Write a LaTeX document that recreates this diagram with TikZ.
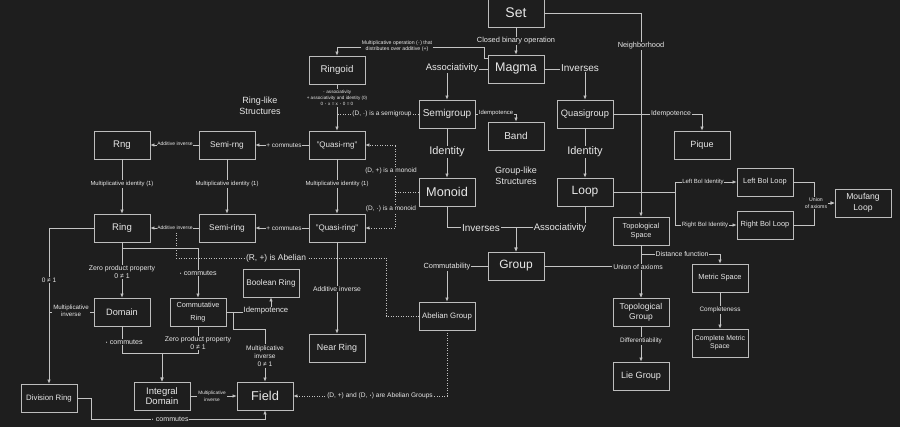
\documentclass[tikz,border=0pt]{standalone}
\usepackage{fontspec}
\setmainfont{Liberation Sans}
\usetikzlibrary{arrows.meta}
\definecolor{bg}{HTML}{1E1E1E}
\definecolor{boxc}{HTML}{BDBDBD}
\definecolor{linec}{HTML}{C4C4C4}
\definecolor{txt}{HTML}{E8E8E8}
\newcommand\cdt{\ensuremath{\boldsymbol{\cdot}}}
\usepackage{amsmath}
\tikzset{
  fs/.style 2 args={font=\fontsize{#1}{#2}\selectfont},
  box/.style={draw=boxc, line width=0.8pt, minimum width=56pt, minimum height=28pt, inner sep=0pt, text=txt, align=center},
  lab/.style={fill=bg, inner sep=0.8pt, text=txt, align=center},
  plain/.style={inner sep=0pt, text=txt, align=center},
  conn/.style={draw=linec, line width=0.7pt},
  arr/.style={conn, -{Latex[length=4pt,width=3.5pt]}},
  dots/.style={conn, dash pattern=on 1pt off 1.5pt},
  darr/.style={dots, -{Latex[length=4pt,width=3.5pt]}},
}
\begin{document}
\begin{tikzpicture}[x=1pt,y=-1pt]
\fill[bg] (0,0) rectangle (900,427);
\useasboundingbox (0,0) rectangle (900,427);
% ---- boxes
\node[box,fs={14}{16}] (set) at (516,13) {Set};
\node[box,fs={12.5}{14}] (magma) at (516,69) {Magma};
\node[box,fs={9.7}{11}] (ringoid) at (337,70) {Ringoid};
\node[box,fs={10}{12}] (semigroup) at (447,114) {Semigroup};
\node[box,fs={10}{12}] (band) at (516,136) {Band};
\node[box,fs={9.3}{11}] (quasigroup) at (585,114) {Quasigroup};
\node[box,fs={9}{11}] (pique) at (702,145) {Pique};
\node[box,fs={12}{14}] (loop) at (585,192) {Loop};
\node[box,fs={7.4}{9}] (lbl) at (765,182) {Left Bol Loop};
\node[box,fs={7.4}{9}] (rbl) at (765,225) {Right Bol Loop};
\node[box,fs={8.6}{11}] (moufang) at (863,203) {Moufang\\Loop};
\node[box,fs={7.3}{8.7}] (topspace) at (641,231) {Topological\\Space};
\node[box,fs={7.4}{9}] (metric) at (720,278) {Metric Space};
\node[box,fs={6.9}{8.3}] (cmetric) at (720,343) {Complete Metric\\Space};
\node[box,fs={8.5}{9.7}] (topgroup) at (641,312) {Topological\\Group};
\node[box,fs={9.1}{11}] (lie) at (641,376) {Lie Group};
\node[box,fs={12}{14}] (group) at (516,266) {Group};
\node[box,fs={7.8}{9}] (abelian) at (447,316) {Abelian Group};
\node[box,fs={8.9}{11}] (near) at (337,348) {Near Ring};
\node[box,fs={12.7}{14}] (monoid) at (447,192) {Monoid};
\node[box,fs={8}{10}] (qrng) at (337,145) {"Quasi-rng"};
\node[box,fs={8}{10}] (qring) at (337,228) {"Quasi-ring"};
\node[box,fs={8.3}{10}] (semirng) at (227,145) {Semi-rng};
\node[box,fs={9.6}{11}] (rng) at (122,145) {Rng};
\node[box,fs={9.6}{11}] (ring) at (122,228) {Ring};
\node[box,fs={8.3}{10}] (semiring) at (227,228) {Semi-ring};
\node[box,fs={9.2}{11}] (domain) at (122,312) {Domain};
\node[box,fs={7.3}{12.7}] (comring) at (198,312) {Commutative\\Ring};
\node[box,fs={8.2}{10}] (boolean) at (271,283) {Boolean Ring};
\node[box,fs={7.8}{9}] (divring) at (49,398) {Division Ring};
\node[box,fs={9.5}{10.7}] (intdom) at (162,396) {Integral\\Domain};
\node[box,fs={12.8}{14}] (field) at (265,396) {Field};
\coordinate (rab) at (176,228);
\coordinate (abx) at (386,258);
% ---- group-like connectors
\draw[arr] (set) -- (magma);
\draw[arr] (set.east) -| (topspace.north);
\draw[arr] ([yshift=11pt]magma.west) -- ++(-3,0) |- ([yshift=8pt]ringoid.north) -- (ringoid.north);
\draw[arr] (magma.west) -| (semigroup.north);
\draw[arr] (magma.east) -| (quasigroup.north);
\draw[arr] (semigroup.east) -| (band.north);
\draw[arr] (semigroup) -- (monoid);
\draw[arr] (quasigroup.east) -| (pique.north);
\draw[arr] (quasigroup) -- (loop);
\draw[arr] (loop.east) -- ++(62,0) |- (lbl.west);
\draw[arr] (loop.east) -- ++(62,0) |- (rbl.west);
\draw[arr] (lbl.east) -- ++(21,0) |- (moufang.west);
\draw[arr] (rbl.east) -- ++(21,0) |- (moufang.west);
\draw[arr] (monoid.south) |- ([yshift=24pt]group.north) -- (group.north);
\draw[arr] (loop.south) |- ([yshift=24pt]group.north) -- (group.north);
\draw[arr] (group.west) -| (abelian.north);
\draw[arr] (group.east) -| (topgroup.north);
\draw[arr] (topspace) -- (topgroup);
\draw[arr] (topspace.south) ++(0,9) -| (metric.north);
\draw[arr] (metric) -- (cmetric);
\draw[arr] (topgroup) -- (lie);
% ---- ring-like connectors
\draw[arr] (ringoid) -- (qrng);
\draw[dots] (semigroup.west) -- (semigroup.west -| ringoid.south);
\draw[darr] (monoid.west) -- ++(-23,0) |- (qrng.east);
\draw[darr] (monoid.west) -- ++(-23,0) |- (qring.east);
\draw[arr] (semirng) -- (rng);
\draw[arr] (qrng) -- (semirng);
\draw[arr] (rng) -- (ring);
\draw[arr] (semirng) -- (semiring);
\draw[arr] (qrng) -- (qring);
\draw[arr] (semiring) -- (ring);
\draw[arr] (qring) -- (semiring);
\draw[dots] (rab) |- (abx) |- (abelian.west);
\draw[arr] (qring) -- (near);
\draw[arr] (ring.south) -- ++(0,6) -| (comring.north);
\draw[arr] (ring) -- (domain);
\draw[arr] (ring.west) -| (divring.north);
\draw[conn] (domain.west) -- (domain.west -| divring.north);
\draw[arr] (domain.south) |- ([yshift=28pt]intdom.north) -- (intdom.north);
\draw[arr] (comring.south) |- ([yshift=28pt]intdom.north) -- (intdom.north);
\draw[arr] (comring.east) -| (boolean.south);
\draw[arr] (comring.east) -- ++(7,0) |- ([yshift=52pt]field.north) -- (field.north);
\draw[arr] (intdom) -- (field);
\draw[arr] (divring.east) -- ++(14,0) |- ([yshift=-9pt]field.south) -- (field.south);
\draw[darr] (abelian.south) |- (field.east);
% ---- labels
\node[lab,fs={7.4}{9}] (l1) at (516,41) {Closed binary operation};
\node[lab,fs={7.4}{9}] (l2) at (641,46) {Neighborhood};
\node[lab,fs={5.2}{6.3}] (l3) at (397,46) {Multiplicative operation (\cdt) that\\distributes over additive (+)};
\node[lab,fs={9.5}{11}] (l4) at (452,68) {Associativity};
\node[lab,fs={10}{12}] (l5) at (580,68) {Inverses};
\node[lab,fs={5.9}{7}] (l6) at (496,113) {Idempotence};
\node[lab,fs={11}{13}] (l7) at (447,152) {Identity};
\node[lab,fs={6.9}{8}] (l8) at (671,114) {Idempotence};
\node[lab,fs={11}{13}] (l9) at (585,152) {Identity};
\node[lab,fs={6}{7}] (l10) at (703,182) {Left Bol Identity};
\node[lab,fs={6.1}{7}] (l11) at (705,225) {Right Bol Identity};
\node[lab,fs={5.2}{6.7}] (l12) at (816,203) {Union\\of axioms};
\node[lab,fs={10}{12}] (l13) at (481,228) {Inverses};
\node[lab,fs={9.5}{11}] (l14) at (560,228) {Associativity};
\node[lab,fs={7.4}{9}] (l15) at (447,267) {Commutability};
\node[lab,fs={6.9}{8}] (l16) at (638,267) {Union of axioms};
\node[lab,fs={6.9}{8}] (l17) at (682,254) {Distance function};
\node[lab,fs={6.4}{8}] (l18) at (720,310) {Completeness};
\node[lab,fs={6.4}{8}] (l19) at (641,341) {Differentiability};
\node[lab,fs={4.6}{6.2}] (l20) at (337,98) {\cdt{} associativity\\+ associativity and identity (0)\\0 \cdt{} x = x \cdt{} 0 = 0};
\node[lab,fs={6.5}{8}] (l21) at (382,114) {(D, \cdt) is a semigroup};
\node[lab,fs={6.5}{8}] (l22) at (391,171) {(D, +) is a monoid};
\node[lab,fs={6.5}{8}] (l23) at (391,209) {(D, \cdt) is a monoid};
\node[lab,fs={5}{6}] (l24) at (175,144) {Additive inverse};
\node[lab,fs={6.4}{8}] (l25) at (284,145) {+ commutes};
\node[lab,fs={5.9}{7}] (l26) at (122,184) {Multiplicative identity (1)};
\node[lab,fs={5.9}{7}] (l27) at (227,184) {Multiplicative identity (1)};
\node[lab,fs={5.9}{7}] (l28) at (337,184) {Multiplicative identity (1)};
\node[lab,fs={5}{6}] (l29) at (175,228) {Additive inverse};
\node[lab,fs={6.4}{8}] (l30) at (284,228) {+ commutes};
\node[lab,fs={8.4}{10}] (l31) at (276,258) {(R, +) is Abelian};
\node[lab,fs={6.8}{8}] (l32) at (337,289) {Additive inverse};
\node[lab,fs={7.1}{8.5}] (l33) at (198,273) {\cdt{} commutes};
\node[lab,fs={6.9}{8.3}] (l34) at (122,272) {Zero product property\\0 ≠ 1};
\node[lab,fs={6.5}{8}] (l35) at (49,280) {0 ≠ 1};
\node[lab,fs={6.2}{7.3}] (l36) at (71,311) {Multiplicative\\inverse};
\node[lab,fs={7.1}{8.5}] (l37) at (124,342) {\cdt{} commutes};
\node[lab,fs={6.9}{8.3}] (l38) at (198,343) {Zero product property\\0 ≠ 1};
\node[lab,fs={7.7}{9}] (l39) at (266,311) {Idempotence};
\node[lab,fs={6.6}{8.3}] (l40) at (265,356) {Multiplicative\\inverse\\0 ≠ 1};
\node[lab,fs={4.8}{6.7}] (l41) at (212,396) {Multiplicative\\inverse};
\node[lab,fs={7.1}{8.5}] (l42) at (170,419) {\cdt{} commutes};
\node[lab,fs={6.6}{8}] (l43) at (380,396) {(D, +) and (D, \cdt) are Abelian Groups};
\node[plain,fs={9}{11}] (t1) at (260,106) {Ring-like\\Structures};
\node[plain,fs={9}{10.7}] (t2) at (516,176) {Group-like\\Structures};
\end{tikzpicture}
\end{document}
